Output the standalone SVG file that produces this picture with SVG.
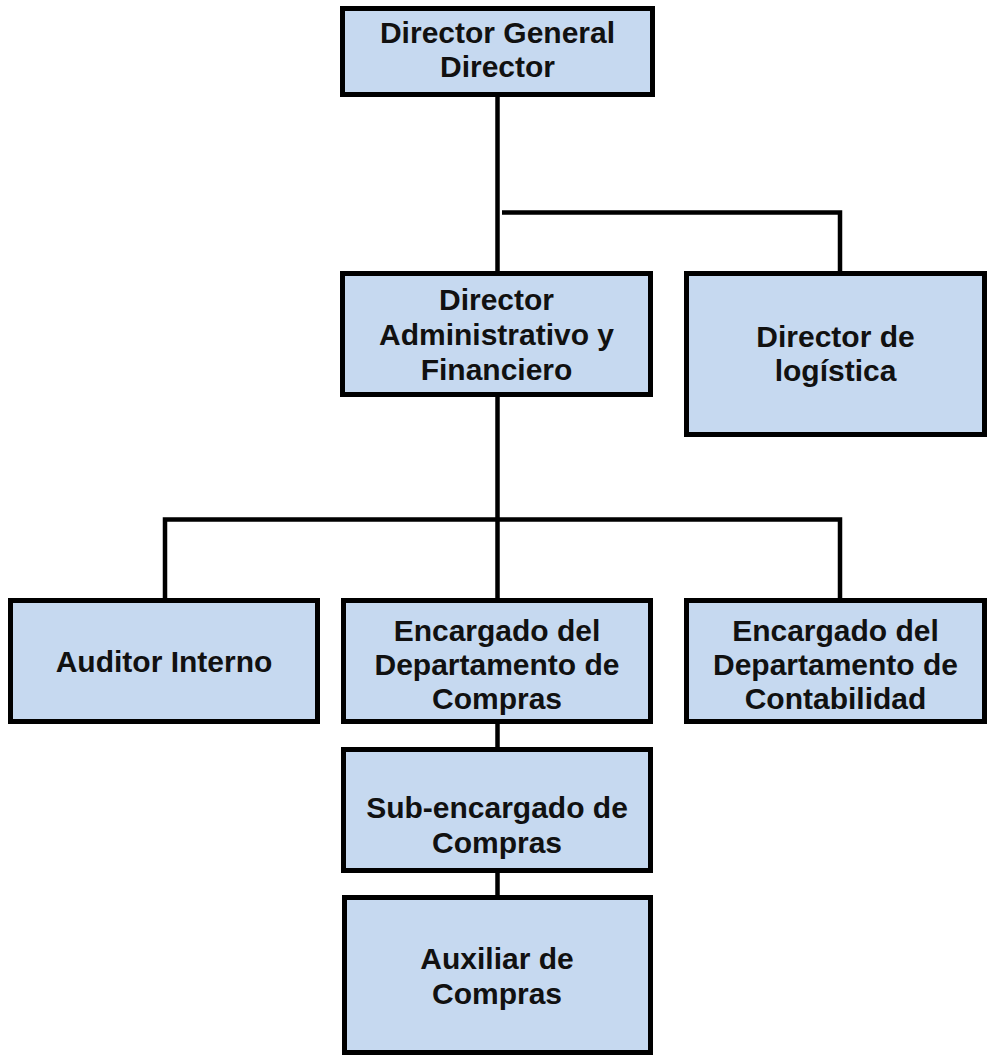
<svg xmlns="http://www.w3.org/2000/svg" width="989" height="1057" viewBox="0 0 989 1057">
<style>
.box{fill:#C6D9F0;stroke:#000;stroke-width:5}
.lbl{font-family:"Liberation Sans",Arial,sans-serif;font-weight:bold;font-size:30px;fill:#111;text-anchor:middle}
.con{fill:none;stroke:#000;stroke-width:4.5}
</style>
<rect width="989" height="1057" fill="#fff"/>
<g id="connectors">
<path class="con" d="M497.5 97V271"/>
<path class="con" d="M502 212.5H840V271"/>
<path class="con" d="M497.5 397V598"/>
<path class="con" d="M165 598V519.5H840V598"/>
<path class="con" d="M497.5 724V747"/>
<path class="con" d="M497.5 873V895"/>
</g>
<g id="director-general">
<rect class="box" x="342.5" y="8.5" width="310" height="86"/>
<text class="lbl" x="497.5" y="43">Director General</text>
<text class="lbl" x="497.5" y="77">Director</text>
</g>
<g id="director-administrativo">
<rect class="box" x="342.5" y="273.5" width="308" height="121"/>
<text class="lbl" x="496.5" y="310">Director</text>
<text class="lbl" x="496.5" y="345">Administrativo y</text>
<text class="lbl" x="496.5" y="380">Financiero</text>
</g>
<g id="director-logistica">
<rect class="box" x="686.5" y="273.5" width="298" height="161"/>
<text class="lbl" x="835.5" y="347">Director de</text>
<text class="lbl" x="835.5" y="381">logística</text>
</g>
<g id="auditor-interno">
<rect class="box" x="10.5" y="600.5" width="307" height="121"/>
<text class="lbl" x="164" y="672">Auditor Interno</text>
</g>
<g id="encargado-compras">
<rect class="box" x="343.5" y="600.5" width="307" height="121"/>
<text class="lbl" x="497" y="641">Encargado del</text>
<text class="lbl" x="497" y="675">Departamento de</text>
<text class="lbl" x="497" y="709">Compras</text>
</g>
<g id="encargado-contabilidad">
<rect class="box" x="686.5" y="600.5" width="298" height="121"/>
<text class="lbl" x="835.5" y="641">Encargado del</text>
<text class="lbl" x="835.5" y="675">Departamento de</text>
<text class="lbl" x="835.5" y="709">Contabilidad</text>
</g>
<g id="sub-encargado-compras">
<rect class="box" x="343.5" y="749.5" width="307" height="121"/>
<text class="lbl" x="497" y="818">Sub-encargado de</text>
<text class="lbl" x="497" y="853">Compras</text>
</g>
<g id="auxiliar-compras">
<rect class="box" x="344.5" y="897.5" width="306" height="155"/>
<text class="lbl" x="497" y="969">Auxiliar de</text>
<text class="lbl" x="497" y="1004">Compras</text>
</g>
</svg>
